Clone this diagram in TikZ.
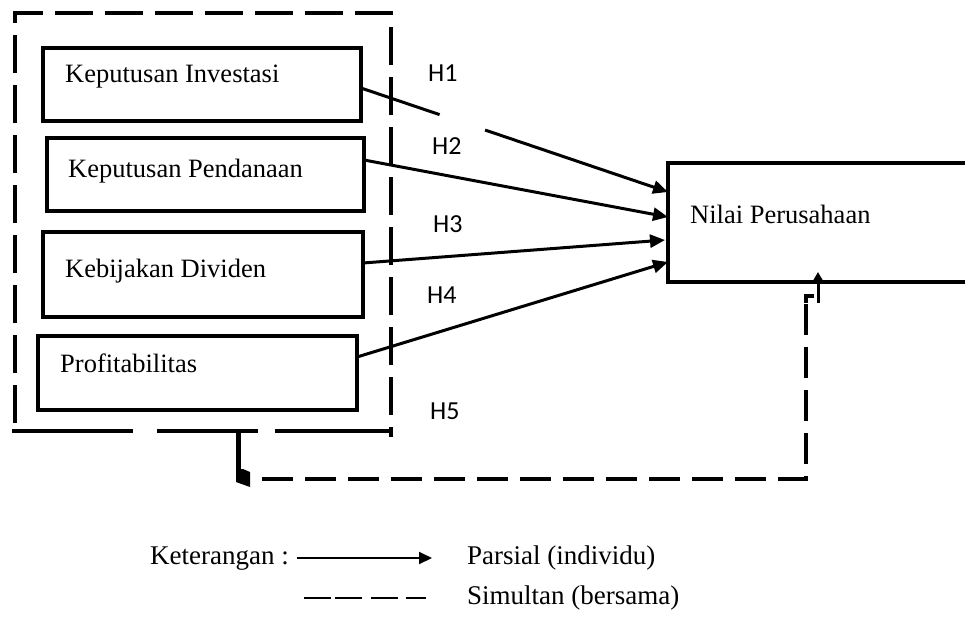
\documentclass[tikz,border=0pt]{standalone}
\usepackage{fontspec}
\setmainfont{Liberation Serif}
\newfontfamily\hfont{Carlito}
\usetikzlibrary{arrows.meta,calc}
\begin{document}
\begin{tikzpicture}[x=1pt,y=-1pt,
  box/.style={draw, line width=3.3pt, rectangle, inner sep=0pt, outer sep=0pt, anchor=north west},
  txt/.style={anchor=base west, inner sep=0pt, font=\fontsize{26.5}{30}\selectfont},
  lgtxt/.style={anchor=base west, inner sep=0pt, font=\fontsize{27}{32}\selectfont},
  hlab/.style={anchor=base west, inner sep=0pt, font=\hfont\fontsize{26}{30}\selectfont},
  arr/.style={line width=3pt, -{Triangle[length=15pt,width=13pt]}},
  grp/.style={line width=3.3pt, dash pattern=on 38pt off 12pt},
  sim/.style={line width=3.3pt, dash pattern=on 31pt off 12pt},
]
\useasboundingbox (0,0) rectangle (965,623);

% boxes
\node[box, minimum width=318pt, minimum height=73pt] (a) at (43,48) {};
\node[box, minimum width=317pt, minimum height=73pt] (b) at (47,138) {};
\node[box, minimum width=320pt, minimum height=85pt] (c) at (43,232) {};
\node[box, minimum width=319pt, minimum height=74pt] (d) at (38,336) {};
\node[box, minimum width=310pt, minimum height=119pt] (e) at (668,163) {};

% box texts
\node[txt] (ta) at (65,83) {Keputusan Investasi};
\node[txt] (tb) at (68,177) {Keputusan Pendanaan};
\node[txt] (tc) at (65,277) {Kebijakan Dividen};
\node[txt] (td) at (60,372) {Profitabilitas};
\node[txt] (te) at (690,223) {Nilai Perusahaan};

% group outline
\coordinate (g1) at (15,423);
\coordinate (g2) at (15,13);
\coordinate (g3) at (391,13);
\coordinate (g4) at (391,437);
\coordinate (g5) at (12,431);
\coordinate (g6) at (391,431);
\draw[grp] (g1) -- (g2) -- (g3) -- (g4);
\draw[line width=3.3pt, dash pattern=on 121pt off 24pt on 101pt off 17pt on 130pt] (g5) -- (g6);

% partial arrows
\draw[arr, dash pattern=on 83pt off 48pt on 400pt] ($(a.north east)+(0,40)$) -- ($(e.north west)+(0,29)$);
\draw[arr] ($(b.north east)+(0,22)$) -- ($(e.north west)+(0,54)$);
\draw[arr] ($(c.north east)+(0,31)$) -- ($(e.north west)+(-3,77)$);
\draw[arr] ($(d.north east)+(0,21)$) -- ($(e.north west)+(0,99)$);

% H labels
\node[hlab] (h1) at (428,82) {H1};
\node[hlab] (h2) at (432,154) {H2};
\node[hlab] (h3) at (433,232) {H3};
\node[hlab] (h4) at (427,303) {H4};
\node[hlab] (h5) at (430,419) {H5};

% simultaneous connector
\coordinate (s0) at (238,431);
\coordinate (s1) at (238,480);
\coordinate (s2) at (262,479);
\coordinate (s3) at (806,479);
\coordinate (s4) at (806,303);
\coordinate (s5) at (806,296);
\coordinate (s6) at (814,296);
\coordinate (s7) at (818,303);
\draw[line width=5pt] (s0) -- (s1);
\fill (243,469) -- (250,472) -- (250,487) -- (236,482) -- (236,469) -- cycle;
\draw[sim] (s2) -- (s3) -- (s4);
\draw[line width=3.3pt] (s4) -- (s5) -- (s6);
\draw[line width=3pt, -{Triangle[length=11pt,width=12pt]}] (s7) -- ($(e.south west)+(150,-10)$);

% legend
\node[lgtxt] (k) at (150,564) {Keterangan :};
\coordinate (l1) at (297,558);
\coordinate (l2) at (432,558);
\draw[line width=2pt, -{Triangle[length=13pt,width=12pt]}] (l1) -- (l2);
\node[lgtxt] (p) at (467,564) {Parsial (individu)};
\coordinate (l3) at (304,598);
\coordinate (l4) at (426,598);
\draw[line width=2pt, dash pattern=on 27pt off 4pt on 27pt off 9pt on 27pt off 8pt on 20pt] (l3) -- (l4);
\node[lgtxt] (s) at (467,604) {Simultan (bersama)};
\end{tikzpicture}
\end{document}
